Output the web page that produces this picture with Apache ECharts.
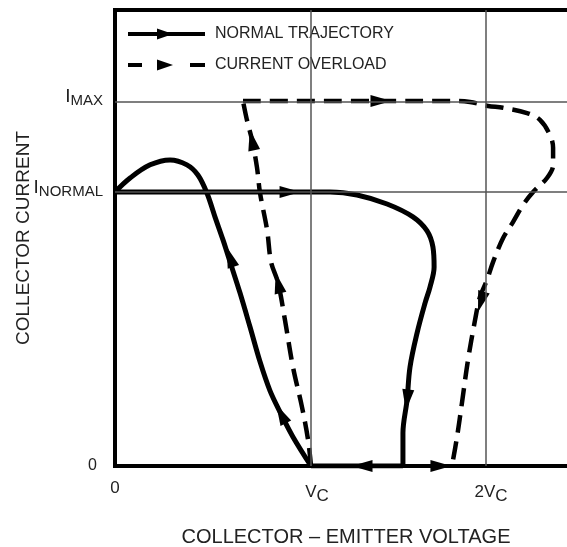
<!DOCTYPE html>
<html><head><meta charset="utf-8">
<script src="https://cdn.jsdelivr.net/npm/echarts@6/dist/echarts.min.js"></script>
<style>html,body{margin:0;padding:0;background:#fff}#c{width:567px;height:547px}</style>
</head><body><div id="c"></div>
<script>
// Units: x in multiples of V_C, y in multiples of I_NORMAL
const xTickValues = [0, 1, 1.888];
const xTickLabels = ['0', 'V_C', '2V_C'];
const yTickValues = [0, 1, 1.332];
const yTickLabels = ['0', 'I_NORMAL', 'I_MAX'];
const xMax = 2.357, yMax = 1.664;

// NORMAL TRAJECTORY pieces
const normalRise = [[1.0,0],[0.908,0.106],[0.847,0.190],[0.791,0.274],[0.740,0.380],[0.689,0.507],[0.638,0.631],[0.587,0.745],[0.551,0.825],[0.510,0.909],[0.469,0.996],[0.423,1.062],[0.367,1.099],[0.281,1.117],[0.179,1.099],[0.077,1.051],[0,1.0]];
const normalRun = [[0,1.0],[0.893,1.0],[1.097,1.0],[1.235,0.989],[1.388,0.956],[1.520,0.909],[1.592,0.858],[1.622,0.799],[1.628,0.726],[1.607,0.653],[1.582,0.595],[1.541,0.485],[1.505,0.361],[1.490,0.241],[1.469,0.120],[1.469,0]];
const normalReturn = [[1.469,0],[1.0,0]];
// CURRENT OVERLOAD pieces
const overloadRise = [[1.0,0],[0.985,0.095],[0.954,0.215],[0.908,0.361],[0.867,0.533],[0.832,0.668],[0.796,0.745],[0.776,0.861],[0.740,0.996],[0.724,1.091],[0.699,1.190],[0.673,1.263],[0.653,1.332]];
const overloadRun = [[0.653,1.332],[1.735,1.332],[1.811,1.328],[1.903,1.314],[1.980,1.307],[2.102,1.288],[2.168,1.263],[2.219,1.208],[2.235,1.161],[2.235,1.099],[2.204,1.051],[2.133,1.0],[2.082,0.953],[2.031,0.891],[1.980,0.832],[1.929,0.745],[1.898,0.679],[1.862,0.617],[1.837,0.533],[1.801,0.387],[1.770,0.230],[1.745,0.106],[1.719,0]];
// arrows: [x, y, dx, dy] (position and heading in data units)
const normalArrows = [[0.847,0.190,-0.061,0.084],[0.587,0.763,-0.051,0.109],[0.893,1.0,1,0],[1.490,0.241,-0.02,-0.12],[1.26,0,-1,0]];
const overloadArrows = [[0.832,0.668,-0.071,0.212],[0.699,1.19,-0.051,0.172],[1.357,1.332,1,0],[1.867,0.599,-0.061,-0.146],[1.663,0,1,0]];

const FONT = 'Liberation Sans';
const NAME_N = 'NORMAL TRAJECTORY', NAME_O = 'CURRENT OVERLOAD';

function labelFor(vals, labels, v) {
  for (let i = 0; i < vals.length; i++) if (Math.abs(vals[i] - v) < 1e-6) return labels[i];
  return '';
}

const chart = echarts.init(document.getElementById('c'), null, {renderer: 'canvas'});
const solidLine = {color: '#000', width: 5, type: 'solid'};
const dashLine = {color: '#000', width: 4.5, type: [18, 9]};
function lineSeries(name, data, style) {
  return {type: 'line', name, data, smooth: 0.35, showSymbol: false, symbol: 'none',
    lineStyle: style, itemStyle: {color: '#000'}, z: 3, silent: true, emphasis: {disabled: true}};
}
chart.setOption({
  animation: false,
  grid: {left: 115, top: 10, right: -10, bottom: 81, outerBoundsMode: 'none', containLabel: false,
    show: true, borderColor: '#000', borderWidth: 4, backgroundColor: 'transparent'},
  legend: {
    data: [
      {name: NAME_N, icon: 'path://M0,3.5H77V7.5H0Z M29,0L45,5.5L29,11Z'},
      {name: NAME_O, icon: 'path://M0,3.5H14V7.5H0Z M29,0L45,5.5L29,11Z M62,3.5H77V7.5H62Z'}
    ],
    orient: 'vertical', left: 128, top: 26, padding: 0, itemWidth: 77, itemHeight: 11, itemGap: 15,
    selectedMode: false,
    textStyle: {fontSize: 16, fontFamily: FONT, color: '#222', padding: [0,0,0,5], lineHeight: 16}
  },
  xAxis: {
    type: 'value', min: 0, max: xMax,
    name: 'COLLECTOR – EMITTER VOLTAGE', nameLocation: 'middle', nameGap: 61, nameMoveOverlap: false,
    nameTextStyle: {fontSize: 20, fontFamily: FONT, color: '#222'},
    axisLine: {show: false}, axisTick: {show: false}, splitLine: {show: false},
    axisLabel: {
      customValues: xTickValues, margin: 14, showMinLabel: true, showMaxLabel: true,
      formatter: v => { const s = labelFor(xTickValues, xTickLabels, v).split('_');
        return s.length > 1 ? '{bs|' + s[0] + '}{s|' + s[1] + '}' : '{b|' + s[0] + '}'; },
      rich: {
        b: {fontSize: 17, fontFamily: FONT, color: '#222'},
        bs: {fontSize: 17, fontFamily: FONT, color: '#222', padding: [0,0,0,12]},
        s: {fontSize: 17, fontFamily: FONT, color: '#222', padding: [8,0,0,0]}
      }
    }
  },
  yAxis: {
    type: 'value', min: 0, max: yMax,
    name: 'COLLECTOR CURRENT', nameLocation: 'middle', nameGap: 82, nameRotate: 90, nameMoveOverlap: false,
    nameTextStyle: {fontSize: 19, fontFamily: FONT, color: '#222'},
    axisLine: {show: false}, axisTick: {show: false}, splitLine: {show: false},
    axisLabel: {
      customValues: yTickValues, margin: 12, showMinLabel: true, showMaxLabel: true,
      formatter: v => { const s = labelFor(yTickValues, yTickLabels, v).split('_');
        return s.length > 1 ? '{i|' + s[0] + '}{s|' + s[1] + '}' : '{b|' + s[0] + '}'; },
      rich: {
        b: {fontSize: 16, fontFamily: FONT, color: '#222', padding: [0,6,0,0]},
        i: {fontSize: 19, fontFamily: FONT, color: '#222', padding: [0,0,8,0]},
        s: {fontSize: 15, fontFamily: FONT, color: '#222'}
      }
    }
  },
  series: [
    {type: 'line', name: 'grid', data: [], z: 1, silent: true,
      markLine: {silent: true, symbol: 'none', animation: false, label: {show: false},
        lineStyle: {color: '#555', width: 1.5, type: 'solid'},
        emphasis: {disabled: true},
        data: [].concat(xTickValues.slice(1).map(v => ({xAxis: v})), yTickValues.slice(1).map(v => ({yAxis: v})))}},
    lineSeries(NAME_N, normalRise, solidLine),
    lineSeries(NAME_N, normalRun, solidLine),
    lineSeries(NAME_N, normalReturn, solidLine),
    lineSeries(NAME_O, overloadRise, dashLine),
    lineSeries(NAME_O, overloadRun, dashLine),
    {id: 'na', type: 'scatter', name: 'normal arrows', data: [], symbol: 'triangle', symbolSize: [12, 21], itemStyle: {color: '#000', opacity: 1}, z: 4, silent: true},
    {id: 'oa', type: 'scatter', name: 'overload arrows', data: [], symbol: 'triangle', symbolSize: [12, 21], itemStyle: {color: '#000', opacity: 1}, z: 4, silent: true}
  ]
});

function arrowData(arr) {
  return arr.map(a => {
    const p0 = chart.convertToPixel({gridIndex: 0}, [a[0], a[1]]);
    const p1 = chart.convertToPixel({gridIndex: 0}, [a[0] + a[2] * 0.01, a[1] + a[3] * 0.01]);
    const ang = Math.atan2(-(p1[1] - p0[1]), p1[0] - p0[0]) * 180 / Math.PI;
    return {value: [a[0], a[1]], symbolRotate: ang - 90};
  });
}
chart.setOption({series: [{id: 'na', data: arrowData(normalArrows)}, {id: 'oa', data: arrowData(overloadArrows)}]});
</script></body></html>
